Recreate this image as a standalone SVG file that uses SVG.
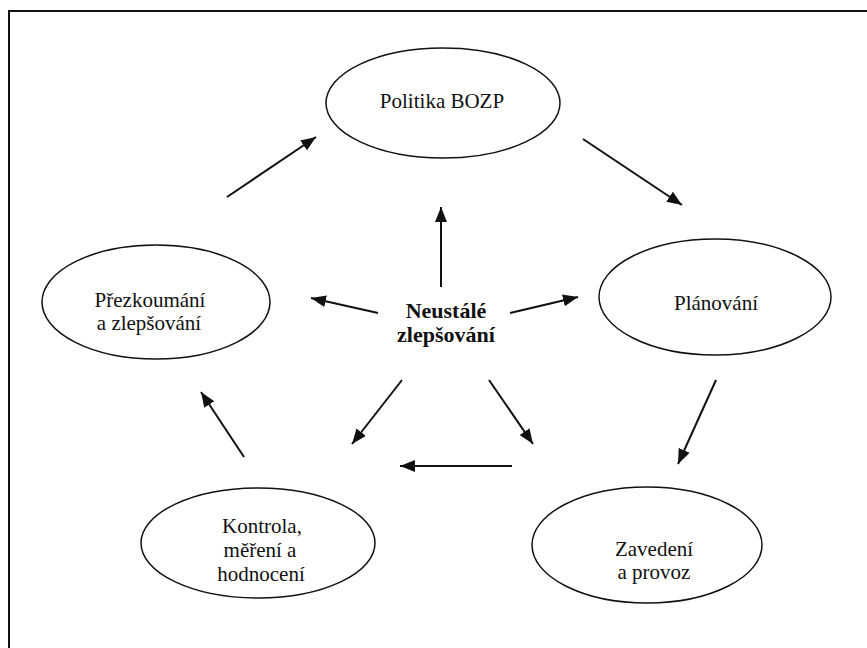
<svg xmlns="http://www.w3.org/2000/svg" width="867" height="648" viewBox="0 0 867 648">
<defs>
<style>
.node ellipse{fill:#fff;stroke:#111;stroke-width:1.5}
text{font-family:'Liberation Serif','DejaVu Serif',serif;fill:#111;text-anchor:middle}
.lbl{font-size:21px}
.ctr{font-size:22px;font-weight:bold}
.conn line{stroke:#111;stroke-width:2;marker-end:url(#ah)}
</style>
<marker id="ah" markerUnits="userSpaceOnUse" markerWidth="16" markerHeight="12" refX="15" refY="6" orient="auto">
<path d="M0,0 L15,6 L0,12 z" fill="#111"/>
</marker>
</defs>
<rect width="867" height="648" fill="#fff"/>
<rect id="frame" x="9" y="11" width="900" height="700" fill="none" stroke="#111" stroke-width="2"/>
<g id="n-politika" class="node"><ellipse cx="443" cy="103" rx="117" ry="55"/><text class="lbl" font-family="Liberation Serif, serif" x="442" y="108">Politika BOZP</text></g>
<g id="n-planovani" class="node"><ellipse cx="715" cy="297" rx="116" ry="58"/><text class="lbl" font-family="Liberation Serif, serif" x="716" y="310">Plánování</text></g>
<g id="n-zavedeni" class="node"><ellipse cx="647" cy="545" rx="115" ry="58"/><text class="lbl" font-family="Liberation Serif, serif" x="654" y="556">Zavedení</text><text class="lbl" font-family="Liberation Serif, serif" x="654" y="579">a provoz</text></g>
<g id="n-kontrola" class="node"><ellipse cx="258" cy="543" rx="117" ry="55"/><text class="lbl" font-family="Liberation Serif, serif" x="262" y="533">Kontrola,</text><text class="lbl" font-family="Liberation Serif, serif" x="260" y="557">měření a</text><text class="lbl" font-family="Liberation Serif, serif" x="261" y="581">hodnocení</text></g>
<g id="n-prezkoumani" class="node"><ellipse cx="156" cy="302" rx="114" ry="57"/><text class="lbl" font-family="Liberation Serif, serif" x="150" y="307">Přezkoumání</text><text class="lbl" font-family="Liberation Serif, serif" x="149" y="330">a zlepšování</text></g>
<g id="n-center" class="node"><text class="ctr" font-family="Liberation Serif, serif" x="446" y="318">Neustálé</text><text class="ctr" font-family="Liberation Serif, serif" x="446" y="342">zlepšování</text></g>
<g id="connectors" class="conn">
<line x1="227" y1="197" x2="316" y2="137"/>
<line x1="583" y1="139" x2="682" y2="205"/>
<line x1="716" y1="380" x2="678" y2="464"/>
<line x1="512" y1="466" x2="400" y2="466"/>
<line x1="244" y1="457" x2="201" y2="392"/>
<line x1="441" y1="287" x2="441" y2="207"/>
<line x1="378" y1="313" x2="311" y2="298"/>
<line x1="510" y1="313" x2="578" y2="297"/>
<line x1="402" y1="380" x2="352" y2="444"/>
<line x1="489" y1="380" x2="533" y2="444"/>
</g>
</svg>
